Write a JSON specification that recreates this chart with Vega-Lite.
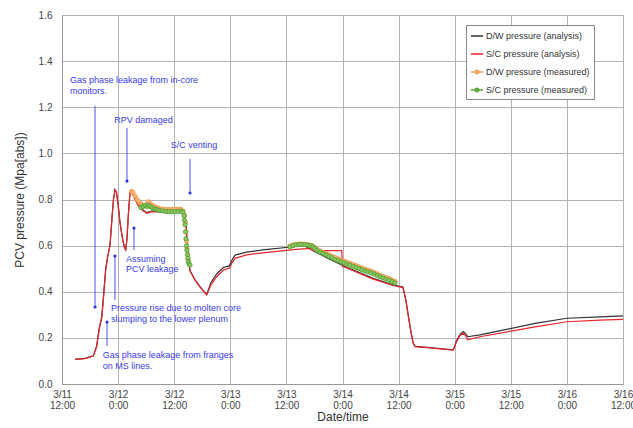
{
  "$schema": "https://vega.github.io/schema/vega-lite/v6.json",
  "width": 561,
  "height": 369,
  "autosize": "none",
  "padding": {"left": 62, "top": 15, "right": 10, "bottom": 44},
  "background": "white",
  "config": {
    "font": "Liberation Sans",
    "view": {"stroke": "#999999", "strokeWidth": 1},
    "axis": {
      "gridColor": "#b3b3b3",
      "gridWidth": 1,
      "domainColor": "#999999",
      "ticks": false,
      "labelColor": "#444444",
      "titleColor": "#333333",
      "titleFontWeight": "normal",
      "labelFontSize": 10,
      "titleFontSize": 12
    }
  },
  "datasets": {
    "analysis": [
      {"t": "2011-03-11T14:47", "v": 0.107, "s": "D/W pressure (analysis)"},
      {"t": "2011-03-11T16:55", "v": 0.111, "s": "D/W pressure (analysis)"},
      {"t": "2011-03-11T18:42", "v": 0.122, "s": "D/W pressure (analysis)"},
      {"t": "2011-03-11T19:25", "v": 0.165, "s": "D/W pressure (analysis)"},
      {"t": "2011-03-11T19:59", "v": 0.245, "s": "D/W pressure (analysis)"},
      {"t": "2011-03-11T20:30", "v": 0.290, "s": "D/W pressure (analysis)"},
      {"t": "2011-03-11T20:50", "v": 0.370, "s": "D/W pressure (analysis)"},
      {"t": "2011-03-11T21:21", "v": 0.500, "s": "D/W pressure (analysis)"},
      {"t": "2011-03-11T21:47", "v": 0.556, "s": "D/W pressure (analysis)"},
      {"t": "2011-03-11T22:16", "v": 0.602, "s": "D/W pressure (analysis)"},
      {"t": "2011-03-11T22:42", "v": 0.722, "s": "D/W pressure (analysis)"},
      {"t": "2011-03-11T23:01", "v": 0.802, "s": "D/W pressure (analysis)"},
      {"t": "2011-03-11T23:20", "v": 0.843, "s": "D/W pressure (analysis)"},
      {"t": "2011-03-11T23:39", "v": 0.832, "s": "D/W pressure (analysis)"},
      {"t": "2011-03-11T23:59", "v": 0.782, "s": "D/W pressure (analysis)"},
      {"t": "2011-03-12T00:24", "v": 0.702, "s": "D/W pressure (analysis)"},
      {"t": "2011-03-12T00:56", "v": 0.632, "s": "D/W pressure (analysis)"},
      {"t": "2011-03-12T01:22", "v": 0.592, "s": "D/W pressure (analysis)"},
      {"t": "2011-03-12T01:38", "v": 0.583, "s": "D/W pressure (analysis)"},
      {"t": "2011-03-12T01:54", "v": 0.632, "s": "D/W pressure (analysis)"},
      {"t": "2011-03-12T02:13", "v": 0.742, "s": "D/W pressure (analysis)"},
      {"t": "2011-03-12T02:33", "v": 0.832, "s": "D/W pressure (analysis)"},
      {"t": "2011-03-12T02:52", "v": 0.837, "s": "D/W pressure (analysis)"},
      {"t": "2011-03-12T03:24", "v": 0.812, "s": "D/W pressure (analysis)"},
      {"t": "2011-03-12T04:15", "v": 0.778, "s": "D/W pressure (analysis)"},
      {"t": "2011-03-12T05:07", "v": 0.758, "s": "D/W pressure (analysis)"},
      {"t": "2011-03-12T06:07", "v": 0.743, "s": "D/W pressure (analysis)"},
      {"t": "2011-03-12T07:11", "v": 0.750, "s": "D/W pressure (analysis)"},
      {"t": "2011-03-12T08:58", "v": 0.748, "s": "D/W pressure (analysis)"},
      {"t": "2011-03-12T11:06", "v": 0.748, "s": "D/W pressure (analysis)"},
      {"t": "2011-03-12T13:14", "v": 0.748, "s": "D/W pressure (analysis)"},
      {"t": "2011-03-12T14:06", "v": 0.743, "s": "D/W pressure (analysis)"},
      {"t": "2011-03-12T14:31", "v": 0.700, "s": "D/W pressure (analysis)"},
      {"t": "2011-03-12T14:57", "v": 0.560, "s": "D/W pressure (analysis)"},
      {"t": "2011-03-12T15:23", "v": 0.492, "s": "D/W pressure (analysis)"},
      {"t": "2011-03-12T16:27", "v": 0.452, "s": "D/W pressure (analysis)"},
      {"t": "2011-03-12T17:31", "v": 0.422, "s": "D/W pressure (analysis)"},
      {"t": "2011-03-12T18:57", "v": 0.388, "s": "D/W pressure (analysis)"},
      {"t": "2011-03-12T19:52", "v": 0.440, "s": "D/W pressure (analysis)"},
      {"t": "2011-03-12T21:05", "v": 0.477, "s": "D/W pressure (analysis)"},
      {"t": "2011-03-12T22:30", "v": 0.505, "s": "D/W pressure (analysis)"},
      {"t": "2011-03-12T23:47", "v": 0.512, "s": "D/W pressure (analysis)"},
      {"t": "2011-03-13T00:22", "v": 0.538, "s": "D/W pressure (analysis)"},
      {"t": "2011-03-13T01:00", "v": 0.559, "s": "D/W pressure (analysis)"},
      {"t": "2011-03-13T03:30", "v": 0.572, "s": "D/W pressure (analysis)"},
      {"t": "2011-03-13T07:25", "v": 0.583, "s": "D/W pressure (analysis)"},
      {"t": "2011-03-13T13:29", "v": 0.595, "s": "D/W pressure (analysis)"},
      {"t": "2011-03-13T15:33", "v": 0.603, "s": "D/W pressure (analysis)"},
      {"t": "2011-03-13T17:45", "v": 0.578, "s": "D/W pressure (analysis)"},
      {"t": "2011-03-13T21:20", "v": 0.540, "s": "D/W pressure (analysis)"},
      {"t": "2011-03-14T00:54", "v": 0.506, "s": "D/W pressure (analysis)"},
      {"t": "2011-03-14T06:35", "v": 0.458, "s": "D/W pressure (analysis)"},
      {"t": "2011-03-14T10:52", "v": 0.429, "s": "D/W pressure (analysis)"},
      {"t": "2011-03-14T12:56", "v": 0.421, "s": "D/W pressure (analysis)"},
      {"t": "2011-03-14T13:35", "v": 0.360, "s": "D/W pressure (analysis)"},
      {"t": "2011-03-14T14:26", "v": 0.250, "s": "D/W pressure (analysis)"},
      {"t": "2011-03-14T15:05", "v": 0.180, "s": "D/W pressure (analysis)"},
      {"t": "2011-03-14T15:30", "v": 0.163, "s": "D/W pressure (analysis)"},
      {"t": "2011-03-14T18:43", "v": 0.158, "s": "D/W pressure (analysis)"},
      {"t": "2011-03-14T23:42", "v": 0.148, "s": "D/W pressure (analysis)"},
      {"t": "2011-03-15T00:26", "v": 0.190, "s": "D/W pressure (analysis)"},
      {"t": "2011-03-15T01:08", "v": 0.215, "s": "D/W pressure (analysis)"},
      {"t": "2011-03-15T01:50", "v": 0.227, "s": "D/W pressure (analysis)"},
      {"t": "2011-03-15T02:19", "v": 0.218, "s": "D/W pressure (analysis)"},
      {"t": "2011-03-15T02:47", "v": 0.205, "s": "D/W pressure (analysis)"},
      {"t": "2011-03-15T05:25", "v": 0.213, "s": "D/W pressure (analysis)"},
      {"t": "2011-03-15T17:11", "v": 0.263, "s": "D/W pressure (analysis)"},
      {"t": "2011-03-16T00:00", "v": 0.285, "s": "D/W pressure (analysis)"},
      {"t": "2011-03-16T07:05", "v": 0.291, "s": "D/W pressure (analysis)"},
      {"t": "2011-03-16T12:00", "v": 0.295, "s": "D/W pressure (analysis)"},

      {"t": "2011-03-11T14:47", "v": 0.107, "s": "S/C pressure (analysis)"},
      {"t": "2011-03-11T16:55", "v": 0.110, "s": "S/C pressure (analysis)"},
      {"t": "2011-03-11T18:42", "v": 0.121, "s": "S/C pressure (analysis)"},
      {"t": "2011-03-11T19:25", "v": 0.162, "s": "S/C pressure (analysis)"},
      {"t": "2011-03-11T19:59", "v": 0.240, "s": "S/C pressure (analysis)"},
      {"t": "2011-03-11T20:30", "v": 0.285, "s": "S/C pressure (analysis)"},
      {"t": "2011-03-11T20:50", "v": 0.364, "s": "S/C pressure (analysis)"},
      {"t": "2011-03-11T21:21", "v": 0.494, "s": "S/C pressure (analysis)"},
      {"t": "2011-03-11T21:47", "v": 0.552, "s": "S/C pressure (analysis)"},
      {"t": "2011-03-11T22:16", "v": 0.600, "s": "S/C pressure (analysis)"},
      {"t": "2011-03-11T22:42", "v": 0.720, "s": "S/C pressure (analysis)"},
      {"t": "2011-03-11T23:01", "v": 0.800, "s": "S/C pressure (analysis)"},
      {"t": "2011-03-11T23:20", "v": 0.841, "s": "S/C pressure (analysis)"},
      {"t": "2011-03-11T23:39", "v": 0.830, "s": "S/C pressure (analysis)"},
      {"t": "2011-03-11T23:59", "v": 0.780, "s": "S/C pressure (analysis)"},
      {"t": "2011-03-12T00:24", "v": 0.700, "s": "S/C pressure (analysis)"},
      {"t": "2011-03-12T00:56", "v": 0.630, "s": "S/C pressure (analysis)"},
      {"t": "2011-03-12T01:22", "v": 0.590, "s": "S/C pressure (analysis)"},
      {"t": "2011-03-12T01:38", "v": 0.581, "s": "S/C pressure (analysis)"},
      {"t": "2011-03-12T01:54", "v": 0.630, "s": "S/C pressure (analysis)"},
      {"t": "2011-03-12T02:13", "v": 0.740, "s": "S/C pressure (analysis)"},
      {"t": "2011-03-12T02:33", "v": 0.830, "s": "S/C pressure (analysis)"},
      {"t": "2011-03-12T02:52", "v": 0.835, "s": "S/C pressure (analysis)"},
      {"t": "2011-03-12T03:24", "v": 0.810, "s": "S/C pressure (analysis)"},
      {"t": "2011-03-12T04:15", "v": 0.775, "s": "S/C pressure (analysis)"},
      {"t": "2011-03-12T05:07", "v": 0.755, "s": "S/C pressure (analysis)"},
      {"t": "2011-03-12T06:07", "v": 0.740, "s": "S/C pressure (analysis)"},
      {"t": "2011-03-12T07:11", "v": 0.747, "s": "S/C pressure (analysis)"},
      {"t": "2011-03-12T08:58", "v": 0.745, "s": "S/C pressure (analysis)"},
      {"t": "2011-03-12T11:06", "v": 0.745, "s": "S/C pressure (analysis)"},
      {"t": "2011-03-12T13:14", "v": 0.745, "s": "S/C pressure (analysis)"},
      {"t": "2011-03-12T14:06", "v": 0.740, "s": "S/C pressure (analysis)"},
      {"t": "2011-03-12T14:31", "v": 0.700, "s": "S/C pressure (analysis)"},
      {"t": "2011-03-12T14:57", "v": 0.560, "s": "S/C pressure (analysis)"},
      {"t": "2011-03-12T15:23", "v": 0.490, "s": "S/C pressure (analysis)"},
      {"t": "2011-03-12T16:27", "v": 0.450, "s": "S/C pressure (analysis)"},
      {"t": "2011-03-12T17:31", "v": 0.420, "s": "S/C pressure (analysis)"},
      {"t": "2011-03-12T18:57", "v": 0.386, "s": "S/C pressure (analysis)"},
      {"t": "2011-03-12T19:52", "v": 0.430, "s": "S/C pressure (analysis)"},
      {"t": "2011-03-12T21:05", "v": 0.465, "s": "S/C pressure (analysis)"},
      {"t": "2011-03-12T22:30", "v": 0.494, "s": "S/C pressure (analysis)"},
      {"t": "2011-03-12T23:47", "v": 0.502, "s": "S/C pressure (analysis)"},
      {"t": "2011-03-13T00:22", "v": 0.525, "s": "S/C pressure (analysis)"},
      {"t": "2011-03-13T01:00", "v": 0.545, "s": "S/C pressure (analysis)"},
      {"t": "2011-03-13T03:30", "v": 0.560, "s": "S/C pressure (analysis)"},
      {"t": "2011-03-13T07:25", "v": 0.570, "s": "S/C pressure (analysis)"},
      {"t": "2011-03-13T13:29", "v": 0.583, "s": "S/C pressure (analysis)"},
      {"t": "2011-03-13T17:03", "v": 0.588, "s": "S/C pressure (analysis)"},
      {"t": "2011-03-13T17:41", "v": 0.578, "s": "S/C pressure (analysis)"},
      {"t": "2011-03-13T23:50", "v": 0.578, "s": "S/C pressure (analysis)"},
      {"t": "2011-03-14T00:00", "v": 0.509, "s": "S/C pressure (analysis)"},
      {"t": "2011-03-14T00:54", "v": 0.503, "s": "S/C pressure (analysis)"},
      {"t": "2011-03-14T06:35", "v": 0.455, "s": "S/C pressure (analysis)"},
      {"t": "2011-03-14T10:52", "v": 0.427, "s": "S/C pressure (analysis)"},
      {"t": "2011-03-14T12:56", "v": 0.418, "s": "S/C pressure (analysis)"},
      {"t": "2011-03-14T13:35", "v": 0.360, "s": "S/C pressure (analysis)"},
      {"t": "2011-03-14T14:26", "v": 0.250, "s": "S/C pressure (analysis)"},
      {"t": "2011-03-14T15:05", "v": 0.180, "s": "S/C pressure (analysis)"},
      {"t": "2011-03-14T15:30", "v": 0.162, "s": "S/C pressure (analysis)"},
      {"t": "2011-03-14T18:43", "v": 0.157, "s": "S/C pressure (analysis)"},
      {"t": "2011-03-14T23:42", "v": 0.147, "s": "S/C pressure (analysis)"},
      {"t": "2011-03-15T00:26", "v": 0.185, "s": "S/C pressure (analysis)"},
      {"t": "2011-03-15T01:08", "v": 0.210, "s": "S/C pressure (analysis)"},
      {"t": "2011-03-15T01:50", "v": 0.220, "s": "S/C pressure (analysis)"},
      {"t": "2011-03-15T02:19", "v": 0.210, "s": "S/C pressure (analysis)"},
      {"t": "2011-03-15T02:47", "v": 0.192, "s": "S/C pressure (analysis)"},
      {"t": "2011-03-15T05:25", "v": 0.205, "s": "S/C pressure (analysis)"},
      {"t": "2011-03-15T17:11", "v": 0.248, "s": "S/C pressure (analysis)"},
      {"t": "2011-03-16T00:00", "v": 0.270, "s": "S/C pressure (analysis)"},
      {"t": "2011-03-16T07:05", "v": 0.277, "s": "S/C pressure (analysis)"},
      {"t": "2011-03-16T12:00", "v": 0.280, "s": "S/C pressure (analysis)"}
    ],
    "measured": [
      {"t": "2011-03-12T02:52", "v": 0.835, "s": "D/W pressure (measured)"},
      {"t": "2011-03-12T03:11", "v": 0.830, "s": "D/W pressure (measured)"},
      {"t": "2011-03-12T03:37", "v": 0.815, "s": "D/W pressure (measured)"},
      {"t": "2011-03-12T04:03", "v": 0.800, "s": "D/W pressure (measured)"},
      {"t": "2011-03-12T04:28", "v": 0.790, "s": "D/W pressure (measured)"},
      {"t": "2011-03-12T04:54", "v": 0.780, "s": "D/W pressure (measured)"},
      {"t": "2011-03-12T05:20", "v": 0.775, "s": "D/W pressure (measured)"},
      {"t": "2011-03-12T05:45", "v": 0.772, "s": "D/W pressure (measured)"},
      {"t": "2011-03-12T06:11", "v": 0.780, "s": "D/W pressure (measured)"},
      {"t": "2011-03-12T06:30", "v": 0.790, "s": "D/W pressure (measured)"},
      {"t": "2011-03-12T06:49", "v": 0.782, "s": "D/W pressure (measured)"},
      {"t": "2011-03-12T07:15", "v": 0.775, "s": "D/W pressure (measured)"},
      {"t": "2011-03-12T07:41", "v": 0.770, "s": "D/W pressure (measured)"},
      {"t": "2011-03-12T08:06", "v": 0.766, "s": "D/W pressure (measured)"},
      {"t": "2011-03-12T08:32", "v": 0.763, "s": "D/W pressure (measured)"},
      {"t": "2011-03-12T08:58", "v": 0.760, "s": "D/W pressure (measured)"},
      {"t": "2011-03-12T09:36", "v": 0.758, "s": "D/W pressure (measured)"},
      {"t": "2011-03-12T10:15", "v": 0.757, "s": "D/W pressure (measured)"},
      {"t": "2011-03-12T10:53", "v": 0.756, "s": "D/W pressure (measured)"},
      {"t": "2011-03-12T11:32", "v": 0.757, "s": "D/W pressure (measured)"},
      {"t": "2011-03-12T12:10", "v": 0.758, "s": "D/W pressure (measured)"},
      {"t": "2011-03-12T12:49", "v": 0.758, "s": "D/W pressure (measured)"},
      {"t": "2011-03-12T13:27", "v": 0.757, "s": "D/W pressure (measured)"},
      {"t": "2011-03-12T13:53", "v": 0.750, "s": "D/W pressure (measured)"},
      {"t": "2011-03-12T14:12", "v": 0.730, "s": "D/W pressure (measured)"},
      {"t": "2011-03-12T14:25", "v": 0.700, "s": "D/W pressure (measured)"},
      {"t": "2011-03-12T14:31", "v": 0.660, "s": "D/W pressure (measured)"},
      {"t": "2011-03-12T14:38", "v": 0.620, "s": "D/W pressure (measured)"},
      {"t": "2011-03-12T14:44", "v": 0.590, "s": "D/W pressure (measured)"},
      {"t": "2011-03-12T14:51", "v": 0.560, "s": "D/W pressure (measured)"},
      {"t": "2011-03-12T14:57", "v": 0.540, "s": "D/W pressure (measured)"},
      {"t": "2011-03-13T12:46", "v": 0.598, "s": "D/W pressure (measured)"},
      {"t": "2011-03-13T13:25", "v": 0.603, "s": "D/W pressure (measured)"},
      {"t": "2011-03-13T14:03", "v": 0.606, "s": "D/W pressure (measured)"},
      {"t": "2011-03-13T14:42", "v": 0.607, "s": "D/W pressure (measured)"},
      {"t": "2011-03-13T15:20", "v": 0.607, "s": "D/W pressure (measured)"},
      {"t": "2011-03-13T15:59", "v": 0.606, "s": "D/W pressure (measured)"},
      {"t": "2011-03-13T16:37", "v": 0.604, "s": "D/W pressure (measured)"},
      {"t": "2011-03-13T17:16", "v": 0.601, "s": "D/W pressure (measured)"},
      {"t": "2011-03-13T17:41", "v": 0.597, "s": "D/W pressure (measured)"},
      {"t": "2011-03-13T18:07", "v": 0.591, "s": "D/W pressure (measured)"},
      {"t": "2011-03-13T18:33", "v": 0.584, "s": "D/W pressure (measured)"},
      {"t": "2011-03-13T19:11", "v": 0.577, "s": "D/W pressure (measured)"},
      {"t": "2011-03-13T19:50", "v": 0.571, "s": "D/W pressure (measured)"},
      {"t": "2011-03-13T20:28", "v": 0.566, "s": "D/W pressure (measured)"},
      {"t": "2011-03-13T21:07", "v": 0.560, "s": "D/W pressure (measured)"},
      {"t": "2011-03-13T21:45", "v": 0.554, "s": "D/W pressure (measured)"},
      {"t": "2011-03-13T22:24", "v": 0.548, "s": "D/W pressure (measured)"},
      {"t": "2011-03-13T23:02", "v": 0.543, "s": "D/W pressure (measured)"},
      {"t": "2011-03-13T23:41", "v": 0.538, "s": "D/W pressure (measured)"},
      {"t": "2011-03-14T00:19", "v": 0.533, "s": "D/W pressure (measured)"},
      {"t": "2011-03-14T00:58", "v": 0.528, "s": "D/W pressure (measured)"},
      {"t": "2011-03-14T01:36", "v": 0.523, "s": "D/W pressure (measured)"},
      {"t": "2011-03-14T02:15", "v": 0.518, "s": "D/W pressure (measured)"},
      {"t": "2011-03-14T02:53", "v": 0.513, "s": "D/W pressure (measured)"},
      {"t": "2011-03-14T03:32", "v": 0.508, "s": "D/W pressure (measured)"},
      {"t": "2011-03-14T04:10", "v": 0.503, "s": "D/W pressure (measured)"},
      {"t": "2011-03-14T04:49", "v": 0.498, "s": "D/W pressure (measured)"},
      {"t": "2011-03-14T05:27", "v": 0.494, "s": "D/W pressure (measured)"},
      {"t": "2011-03-14T06:06", "v": 0.489, "s": "D/W pressure (measured)"},
      {"t": "2011-03-14T06:44", "v": 0.484, "s": "D/W pressure (measured)"},
      {"t": "2011-03-14T07:23", "v": 0.478, "s": "D/W pressure (measured)"},
      {"t": "2011-03-14T08:01", "v": 0.472, "s": "D/W pressure (measured)"},
      {"t": "2011-03-14T08:40", "v": 0.467, "s": "D/W pressure (measured)"},
      {"t": "2011-03-14T09:18", "v": 0.462, "s": "D/W pressure (measured)"},
      {"t": "2011-03-14T09:57", "v": 0.457, "s": "D/W pressure (measured)"},
      {"t": "2011-03-14T10:35", "v": 0.451, "s": "D/W pressure (measured)"},
      {"t": "2011-03-14T11:14", "v": 0.445, "s": "D/W pressure (measured)"},

      {"t": "2011-03-12T04:54", "v": 0.765, "s": "S/C pressure (measured)"},
      {"t": "2011-03-12T05:20", "v": 0.770, "s": "S/C pressure (measured)"},
      {"t": "2011-03-12T05:45", "v": 0.775, "s": "S/C pressure (measured)"},
      {"t": "2011-03-12T06:11", "v": 0.770, "s": "S/C pressure (measured)"},
      {"t": "2011-03-12T06:30", "v": 0.775, "s": "S/C pressure (measured)"},
      {"t": "2011-03-12T06:49", "v": 0.770, "s": "S/C pressure (measured)"},
      {"t": "2011-03-12T07:15", "v": 0.765, "s": "S/C pressure (measured)"},
      {"t": "2011-03-12T07:41", "v": 0.760, "s": "S/C pressure (measured)"},
      {"t": "2011-03-12T08:06", "v": 0.757, "s": "S/C pressure (measured)"},
      {"t": "2011-03-12T08:32", "v": 0.755, "s": "S/C pressure (measured)"},
      {"t": "2011-03-12T08:58", "v": 0.752, "s": "S/C pressure (measured)"},
      {"t": "2011-03-12T09:36", "v": 0.750, "s": "S/C pressure (measured)"},
      {"t": "2011-03-12T10:15", "v": 0.748, "s": "S/C pressure (measured)"},
      {"t": "2011-03-12T10:53", "v": 0.747, "s": "S/C pressure (measured)"},
      {"t": "2011-03-12T11:32", "v": 0.747, "s": "S/C pressure (measured)"},
      {"t": "2011-03-12T12:10", "v": 0.748, "s": "S/C pressure (measured)"},
      {"t": "2011-03-12T12:49", "v": 0.748, "s": "S/C pressure (measured)"},
      {"t": "2011-03-12T13:27", "v": 0.749, "s": "S/C pressure (measured)"},
      {"t": "2011-03-12T13:53", "v": 0.745, "s": "S/C pressure (measured)"},
      {"t": "2011-03-12T14:06", "v": 0.730, "s": "S/C pressure (measured)"},
      {"t": "2011-03-12T14:12", "v": 0.710, "s": "S/C pressure (measured)"},
      {"t": "2011-03-12T14:19", "v": 0.690, "s": "S/C pressure (measured)"},
      {"t": "2011-03-12T14:25", "v": 0.660, "s": "S/C pressure (measured)"},
      {"t": "2011-03-12T14:31", "v": 0.630, "s": "S/C pressure (measured)"},
      {"t": "2011-03-12T14:38", "v": 0.600, "s": "S/C pressure (measured)"},
      {"t": "2011-03-12T14:44", "v": 0.580, "s": "S/C pressure (measured)"},
      {"t": "2011-03-12T14:51", "v": 0.560, "s": "S/C pressure (measured)"},
      {"t": "2011-03-12T14:57", "v": 0.545, "s": "S/C pressure (measured)"},
      {"t": "2011-03-12T15:04", "v": 0.530, "s": "S/C pressure (measured)"},
      {"t": "2011-03-12T15:10", "v": 0.520, "s": "S/C pressure (measured)"},
      {"t": "2011-03-12T15:23", "v": 0.516, "s": "S/C pressure (measured)"},
      {"t": "2011-03-13T12:46", "v": 0.595, "s": "S/C pressure (measured)"},
      {"t": "2011-03-13T13:25", "v": 0.600, "s": "S/C pressure (measured)"},
      {"t": "2011-03-13T14:03", "v": 0.603, "s": "S/C pressure (measured)"},
      {"t": "2011-03-13T14:42", "v": 0.605, "s": "S/C pressure (measured)"},
      {"t": "2011-03-13T15:20", "v": 0.605, "s": "S/C pressure (measured)"},
      {"t": "2011-03-13T15:59", "v": 0.604, "s": "S/C pressure (measured)"},
      {"t": "2011-03-13T16:37", "v": 0.603, "s": "S/C pressure (measured)"},
      {"t": "2011-03-13T17:16", "v": 0.600, "s": "S/C pressure (measured)"},
      {"t": "2011-03-13T17:41", "v": 0.595, "s": "S/C pressure (measured)"},
      {"t": "2011-03-13T18:07", "v": 0.588, "s": "S/C pressure (measured)"},
      {"t": "2011-03-13T18:33", "v": 0.580, "s": "S/C pressure (measured)"},
      {"t": "2011-03-13T19:11", "v": 0.572, "s": "S/C pressure (measured)"},
      {"t": "2011-03-13T19:50", "v": 0.566, "s": "S/C pressure (measured)"},
      {"t": "2011-03-13T20:28", "v": 0.560, "s": "S/C pressure (measured)"},
      {"t": "2011-03-13T21:07", "v": 0.553, "s": "S/C pressure (measured)"},
      {"t": "2011-03-13T21:45", "v": 0.547, "s": "S/C pressure (measured)"},
      {"t": "2011-03-13T22:24", "v": 0.540, "s": "S/C pressure (measured)"},
      {"t": "2011-03-13T23:02", "v": 0.535, "s": "S/C pressure (measured)"},
      {"t": "2011-03-13T23:41", "v": 0.530, "s": "S/C pressure (measured)"},
      {"t": "2011-03-14T00:19", "v": 0.525, "s": "S/C pressure (measured)"},
      {"t": "2011-03-14T00:58", "v": 0.520, "s": "S/C pressure (measured)"},
      {"t": "2011-03-14T01:36", "v": 0.515, "s": "S/C pressure (measured)"},
      {"t": "2011-03-14T02:15", "v": 0.510, "s": "S/C pressure (measured)"},
      {"t": "2011-03-14T02:53", "v": 0.505, "s": "S/C pressure (measured)"},
      {"t": "2011-03-14T03:32", "v": 0.500, "s": "S/C pressure (measured)"},
      {"t": "2011-03-14T04:10", "v": 0.495, "s": "S/C pressure (measured)"},
      {"t": "2011-03-14T04:49", "v": 0.490, "s": "S/C pressure (measured)"},
      {"t": "2011-03-14T05:27", "v": 0.486, "s": "S/C pressure (measured)"},
      {"t": "2011-03-14T06:06", "v": 0.482, "s": "S/C pressure (measured)"},
      {"t": "2011-03-14T06:44", "v": 0.477, "s": "S/C pressure (measured)"},
      {"t": "2011-03-14T07:23", "v": 0.471, "s": "S/C pressure (measured)"},
      {"t": "2011-03-14T08:01", "v": 0.465, "s": "S/C pressure (measured)"},
      {"t": "2011-03-14T08:40", "v": 0.460, "s": "S/C pressure (measured)"},
      {"t": "2011-03-14T09:18", "v": 0.455, "s": "S/C pressure (measured)"},
      {"t": "2011-03-14T09:57", "v": 0.450, "s": "S/C pressure (measured)"},
      {"t": "2011-03-14T10:35", "v": 0.444, "s": "S/C pressure (measured)"},
      {"t": "2011-03-14T11:14", "v": 0.438, "s": "S/C pressure (measured)"}
    ],
    "arrows": [
      {"t": "2011-03-11T19:04", "y1": 1.206, "y2": 0.334, "yd": 0.334},
      {"t": "2011-03-12T01:54", "y1": 1.110, "y2": 0.880, "yd": 0.880},
      {"t": "2011-03-12T15:23", "y1": 0.976, "y2": 0.828, "yd": 0.828},
      {"t": "2011-03-12T03:24", "y1": 0.581, "y2": 0.676, "yd": 0.676},
      {"t": "2011-03-11T23:20", "y1": 0.364, "y2": 0.555, "yd": 0.555},
      {"t": "2011-03-11T21:38", "y1": 0.165, "y2": 0.269, "yd": 0.269}
    ],
    "notes": [
      {"t": "2011-03-11T13:43", "v": 1.303, "text": "Gas phase leakage from in-core\nmonitors."},
      {"t": "2011-03-11T23:11", "v": 1.131, "text": "RPV damaged"},
      {"t": "2011-03-12T11:15", "v": 1.022, "text": "S/C venting"},
      {"t": "2011-03-12T01:41", "v": 0.531, "text": "Assuming\nPCV leakage"},
      {"t": "2011-03-11T22:29", "v": 0.317, "text": "Pressure rise due to molten core\nslumping to the lower plenum"},
      {"t": "2011-03-11T20:42", "v": 0.111, "text": "Gas phase leakage from franges\non MS lines."}
    ]
  },
  "layer": [
    {
      "data": {"name": "analysis"},
      "mark": {"type": "line", "strokeWidth": 1.2},
      "encoding": {
        "x": {
          "field": "t",
          "type": "temporal",
          "title": "Date/time",
          "scale": {
            "domain": [
              {"year": 2011, "month": 3, "date": 11, "hours": 12},
              {"year": 2011, "month": 3, "date": 16, "hours": 12}
            ],
            "nice": false
          },
          "axis": {
            "values": [
              {"year": 2011, "month": 3, "date": 11, "hours": 12},
              {"year": 2011, "month": 3, "date": 12, "hours": 0},
              {"year": 2011, "month": 3, "date": 12, "hours": 12},
              {"year": 2011, "month": 3, "date": 13, "hours": 0},
              {"year": 2011, "month": 3, "date": 13, "hours": 12},
              {"year": 2011, "month": 3, "date": 14, "hours": 0},
              {"year": 2011, "month": 3, "date": 14, "hours": 12},
              {"year": 2011, "month": 3, "date": 15, "hours": 0},
              {"year": 2011, "month": 3, "date": 15, "hours": 12},
              {"year": 2011, "month": 3, "date": 16, "hours": 0},
              {"year": 2011, "month": 3, "date": 16, "hours": 12}
            ],
            "format": "%-m/%-d %-H:%M",
            "labelExpr": "split(datum.label, ' ')",
            "labelOverlap": false,
            "labelFlush": false,
            "labelPadding": 5,
            "labelLineHeight": 11.5,
            "titlePadding": 1
          }
        },
        "y": {
          "field": "v",
          "type": "quantitative",
          "title": "PCV pressure (Mpa[abs])",
          "scale": {"domain": [0, 1.6], "nice": false},
          "axis": {
            "values": [0, 0.2, 0.4, 0.6, 0.8, 1.0, 1.2, 1.4, 1.6],
            "format": ".1f",
            "labelPadding": 10,
            "titlePadding": 12
          }
        },
        "color": {
          "field": "s",
          "type": "nominal",
          "scale": {
            "domain": ["D/W pressure (analysis)", "S/C pressure (analysis)", "D/W pressure (measured)", "S/C pressure (measured)"],
            "range": ["#333333", "#e8262b", "#f5a05a", "#5aa83a"]
          },
          "legend": {
            "title": null,
            "orient": "none",
            "legendX": 404,
            "legendY": 10,
            "fillColor": "white",
            "strokeColor": "#888888",
            "padding": 4,
            "symbolType": "stroke",
            "symbolSize": 150,
            "symbolStrokeWidth": 1.5,
            "labelFontSize": 9,
            "labelColor": "#333333",
            "labelOffset": 2,
            "rowPadding": 6,
            "encode": {
              "symbols": {
                "update": {
                  "shape": {"signal": "indexof(datum.value, 'measured') >= 0 ? 'M-1,0L1,0M-0.3,0A0.3,0.3 0 1,0 0.3,0A0.3,0.3 0 1,0 -0.3,0' : 'stroke'"},
                  "fill": {"signal": "datum.value == 'D/W pressure (measured)' ? '#f9b77e' : (datum.value == 'S/C pressure (measured)' ? '#8cc864' : 'transparent')"}
                }
              }
            }
          }
        }
      }
    },
    {
      "data": {"name": "measured"},
      "mark": {"type": "point", "filled": true, "size": 18, "strokeWidth": 0.8, "opacity": 1},
      "encoding": {
        "x": {"field": "t", "type": "temporal"},
        "y": {"field": "v", "type": "quantitative"},
        "fill": {
          "field": "s",
          "type": "nominal",
          "scale": {"domain": ["D/W pressure (measured)", "S/C pressure (measured)"], "range": ["#f9b77e", "#8cc864"]},
          "legend": null
        },
        "stroke": {
          "field": "s",
          "type": "nominal",
          "scale": {"domain": ["D/W pressure (measured)", "S/C pressure (measured)"], "range": ["#f0903c", "#4c9a2c"]},
          "legend": null
        }
      }
    },
    {
      "data": {"name": "arrows"},
      "mark": {"type": "rule", "color": "#4a55e8", "strokeWidth": 1},
      "encoding": {
        "x": {"field": "t", "type": "temporal"},
        "y": {"field": "y1", "type": "quantitative"},
        "y2": {"field": "y2"}
      }
    },
    {
      "data": {"name": "arrows"},
      "mark": {"type": "point", "filled": true, "color": "#2a35d8", "size": 10, "opacity": 1},
      "encoding": {
        "x": {"field": "t", "type": "temporal"},
        "y": {"field": "yd", "type": "quantitative"}
      }
    },
    {
      "data": {"name": "notes"},
      "mark": {"type": "text", "align": "left", "baseline": "alphabetic", "fontSize": 9, "color": "#3a3af0", "lineBreak": "\n", "lineHeight": 10.7},
      "encoding": {
        "x": {"field": "t", "type": "temporal"},
        "y": {"field": "v", "type": "quantitative"},
        "text": {"field": "text"}
      }
    }
  ]
}
